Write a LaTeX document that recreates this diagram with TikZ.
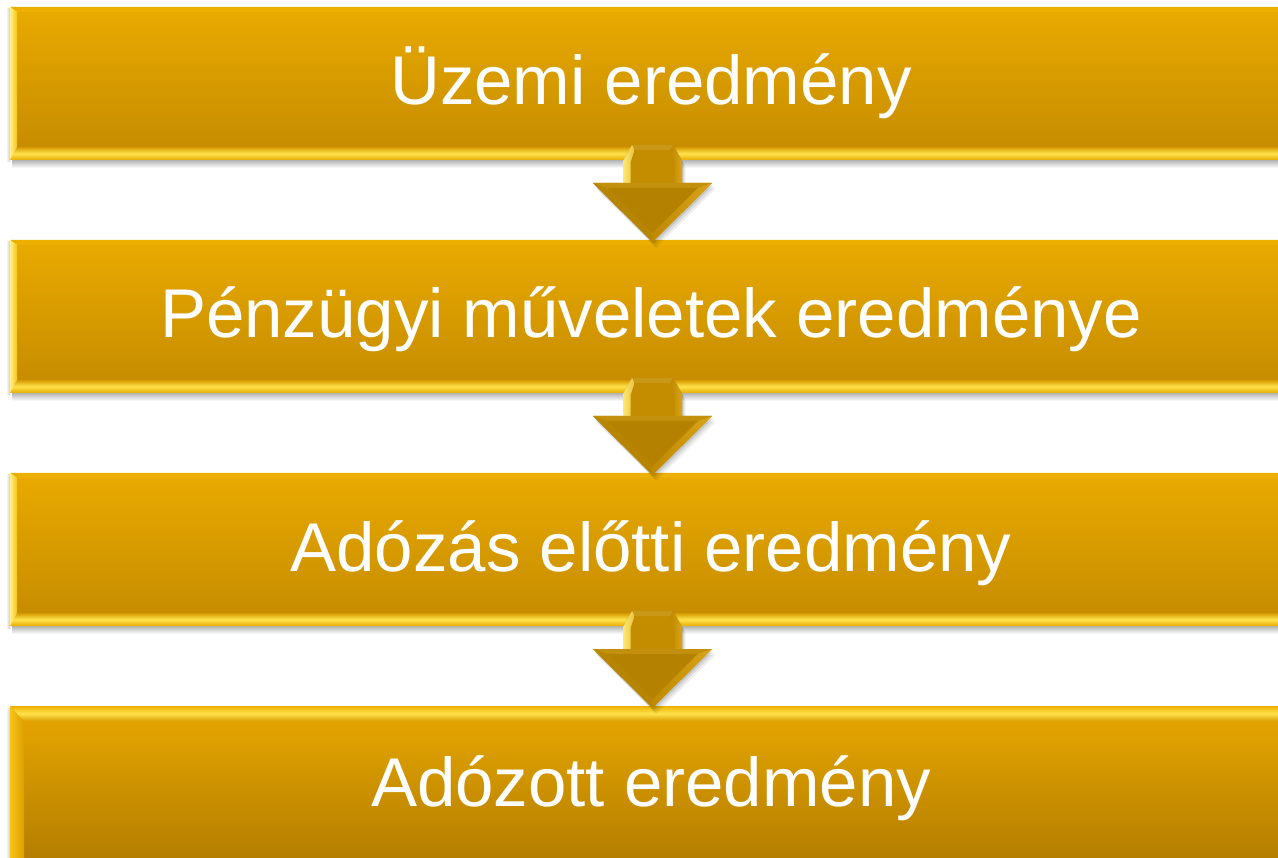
\documentclass[tikz,border=0pt]{standalone}
\usepackage{fontspec}
\setmainfont{Liberation Sans}
\definecolor{barTop}{HTML}{E8A900}
\definecolor{barBot}{HTML}{C78D00}
\definecolor{bevTop}{HTML}{EDB000}
\definecolor{bevLL}{HTML}{FFF08A}
\definecolor{bevLR}{HTML}{F5C418}
\definecolor{bevBT}{HTML}{D69A00}
\definecolor{bevBM}{HTML}{FFE34D}
\definecolor{bevBB}{HTML}{E8AC00}
\definecolor{lastTop}{HTML}{E8A800}
\definecolor{lastBot}{HTML}{B47D00}
\definecolor{arrFace}{HTML}{C08A00}
\definecolor{arrShaft}{HTML}{C48D00}
\definecolor{arrLight}{HTML}{FFE870}
\definecolor{arrRight}{HTML}{D8A418}
\tikzset{
  bartext/.style={text=white, font=\fontsize{69}{80}\selectfont, anchor=base, inner sep=0pt},
}
\newcommand\goldarrow[1]{%
\begin{scope}[shift={(652.5,#1)}]
  \foreach \d/\o in {6/0.06,4/0.08,2/0.10}{
    \fill[black,opacity=\o,shift={(\d*0.6,\d)}] (-29.5,16) -- (-20.5,0) -- (20.5,0) -- (29.5,16) -- (29.5,38) -- (59.5,38) -- (0,97) -- (-59.5,38) -- (-29.5,38) -- cycle;
  }
  \fill[arrFace] (-29.5,16) -- (-20.5,0) -- (20.5,0) -- (29.5,16) -- (29.5,38) -- (59.5,38) -- (0,97) -- (-59.5,38) -- (-29.5,38) -- cycle;
  \fill[arrShaft] (-22,5) -- (22,5) -- (22,38) -- (-22,38) -- cycle;
  \fill[arrShaft!90!white] (-20.5,0) -- (20.5,0) -- (18,5) -- (-18,5) -- cycle;
  \shade[left color=arrLight, right color=arrLight!60!arrFace] (-29.5,16) -- (-20.5,0) -- (-18,5) -- (-22,17) -- (-22,38) -- (-29.5,38) -- cycle;
  \shade[left color=arrFace, right color=arrRight] (29.5,16) -- (20.5,0) -- (18,5) -- (22,17) -- (22,38) -- (29.5,38) -- cycle;
  \fill[arrFace!95!white] (-59.5,38) -- (59.5,38) -- (45,43) -- (-45,43) -- cycle;
  \fill[arrFace!96!black] (-59.5,38) -- (-45,43) -- (0,88) -- (0,97) -- cycle;
  \shade[left color=arrFace, right color=arrRight] (59.5,38) -- (45,43) -- (0,88) -- (0,97) -- cycle;
  \fill[arrFace!94!black] (-45,43) -- (45,43) -- (0,88) -- cycle;
\end{scope}}
\begin{document}
\begin{tikzpicture}[x=1pt,y=-1pt]
\useasboundingbox (0,0) rectangle (1278,858);
\clip (0,0) rectangle (1278,858);
\fill[white] (0,0) rectangle (1278,858);
% bars 1-3
\foreach \y in {7,240,473}{
  \shade[top color=black!30, bottom color=white] (12,\y+153) rectangle (1290,\y+161);
  \shade[left color=white, right color=black!20] (6,\y+2) rectangle (10,\y+155);
  \shade[top color=barTop, bottom color=barBot] (17,\y+5) rectangle (1290,\y+140);
  \fill[bevTop] (10,\y) -- (1290,\y) -- (1290,\y+5) -- (17,\y+5) -- cycle;
  \shade[left color=bevLL, right color=bevLR] (10,\y) -- (17,\y+5) -- (17,\y+140) -- (10,\y+153) -- cycle;
  \shade[top color=bevBT, bottom color=bevBB, middle color=bevBM] (10,\y+153) -- (17,\y+140) -- (1290,\y+140) -- (1290,\y+153) -- cycle;
}
% bar 4
\shade[left color=white, right color=black!20] (6,708) rectangle (10,870);
\shade[top color=lastTop, bottom color=lastBot] (10,706) rectangle (1290,860);
\shade[left color=bevLR, right color=lastTop!70!barBot] (10,706) -- (24,721) -- (24,870) -- (10,870) -- cycle;
\shade[top color=bevTop, bottom color=lastTop!95!black, middle color=bevBM] (10,706) -- (1290,706) -- (1290,721) -- (24,721) -- cycle;
% named anchors of the bars
\coordinate (bar1) at (651,83);
\coordinate (bar2) at (651,316);
\coordinate (bar3) at (651,549);
\coordinate (bar4) at (651,782);
% arrows
\goldarrow{145}
\goldarrow{378}
\goldarrow{611}
% texts
\node[bartext] (t1) at (651,105) {Üzemi eredmény};
\node[bartext] (t2) at (651,338) {Pénzügyi műveletek eredménye};
\node[bartext] (t3) at (651,571) {Adózás előtti eredmény};
\node[bartext] (t4) at (651,806) {Adózott eredmény};
\end{tikzpicture}
\end{document}
